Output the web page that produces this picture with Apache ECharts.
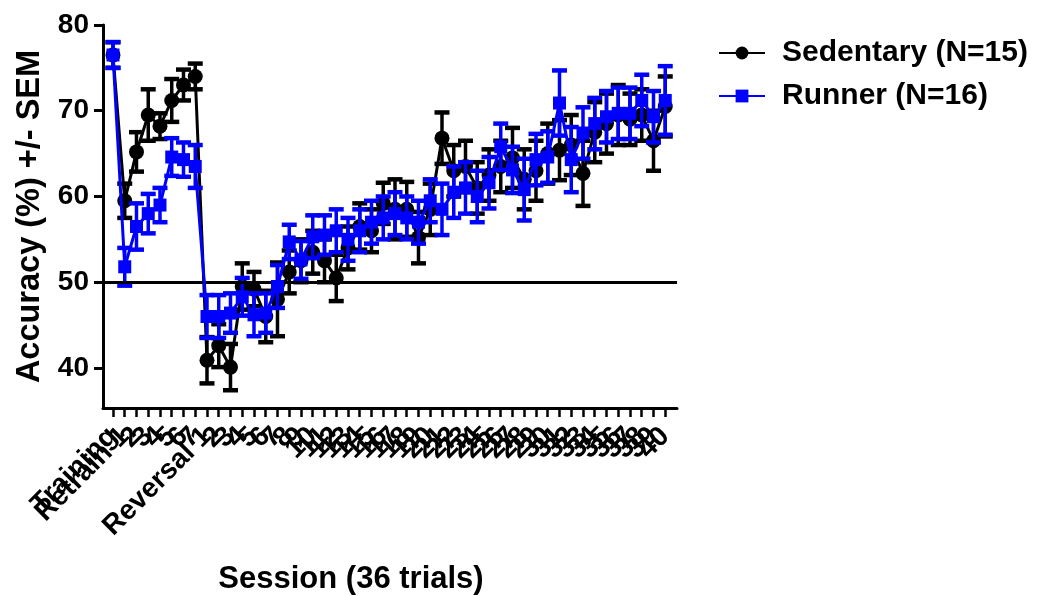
<!DOCTYPE html>
<html>
<head>
<meta charset="utf-8">
<script src="https://cdn.jsdelivr.net/npm/echarts@6/dist/echarts.min.js"></script>
<style>
  html, body { margin: 0; padding: 0; background: #fff; }
  #chart { width: 1052px; height: 596px; }
</style>
</head>
<body>
<div id="chart"></div>
<script>
// Session labels along the x axis
const sessionLabels = [
  "Training", "Retrain 1", "2", "3", "4", "5", "6", "7",
  "Reversal 1", "2", "3", "4", "5", "6", "7", "8", "9", "10",
  "11", "12", "13", "14", "15", "16", "17", "18", "19", "20",
  "21", "22", "23", "24", "25", "26", "27", "28", "29", "30",
  "31", "32", "33", "34", "35", "36", "37", "38", "39", "40"
];

// Sedentary group: mean accuracy (%) and SEM per session
const sedentaryMean = [
  76.5, 59.5, 65.2, 69.5, 68.2, 71.2, 73.0, 74.0,
  40.9, 42.6, 40.1, 49.5, 49.2, 46.0, 48.0, 51.2, 52.5, 53.5, 52.5, 50.5,
  54.0, 56.5, 56.0, 59.2, 58.5, 58.5, 55.2, 58.5, 66.8, 63.0,
  63.5, 61.0, 62.5, 63.5, 64.5, 62.0, 63.0, 65.0, 65.4, 66.0,
  62.7, 67.5, 68.5, 69.5, 69.0, 69.5, 66.5, 70.5
];
const sedentarySem = [
  1.5, 2.0, 2.3, 3.0, 1.5, 2.5, 1.8, 1.5,
  2.7, 2.5, 2.7, 2.7, 2.0, 3.0, 4.3, 2.5, 2.5, 2.5, 2.5, 2.7,
  2.5, 2.7, 2.5, 2.4, 3.5, 3.2, 3.0, 3.0, 3.0, 3.0,
  3.0, 3.0, 3.0, 3.0, 3.5, 3.5, 3.5, 3.5, 3.5, 3.5,
  3.8, 3.5, 3.5, 3.5, 3.0, 3.0, 3.5, 3.5
];

// Runner group: mean accuracy (%) and SEM per session
const runnerMean = [
  76.5, 51.8, 56.5, 58.0, 59.0, 64.6, 64.3, 63.5,
  46.0, 46.0, 46.4, 48.3, 46.2, 46.4, 49.5, 54.7, 52.6, 55.3, 55.5, 56.0,
  55.0, 56.0, 57.0, 57.5, 58.0, 57.5, 57.0, 59.5, 58.5, 60.5,
  61.0, 60.0, 61.6, 65.8, 63.1, 60.8, 64.3, 64.6, 70.9, 64.3,
  67.4, 68.5, 69.3, 69.7, 69.7, 71.2, 69.3, 71.2
];
const runnerSem = [
  1.5, 2.2, 2.7, 2.3, 2.0, 2.2, 2.0, 2.5,
  2.5, 2.5, 2.3, 2.2, 2.5, 2.3, 2.5, 2.0, 2.2, 2.5, 2.3, 2.5,
  2.5, 2.5, 2.5, 2.5, 2.5, 2.5, 2.5, 2.5, 3.0, 3.0,
  3.0, 3.0, 3.0, 2.7, 2.7, 3.6, 3.0, 3.0, 3.8, 3.8,
  3.0, 3.0, 3.0, 3.0, 3.0, 3.0, 3.0, 4.0
];

const yTicks = [40, 50, 60, 70, 80];
const chanceLevel = 50;

const FONT = '"Liberation Sans", Arial, Helvetica, sans-serif';

function lineData(means) {
  return means.map((m, i) => [i, m]);
}
function errData(means, sems) {
  return means.map((m, i) => [i, m, sems[i]]);
}

// Mean +/- SEM whiskers with flat caps
function errorBars(color, capWidth, lineWidth, capThickness) {
  return function (params, api) {
    const x = api.value(0), m = api.value(1), s = api.value(2);
    const hi = api.coord([x, m + s]);
    const lo = api.coord([x, m - s]);
    const half = capWidth / 2;
    return {
      type: 'group',
      children: [
        { type: 'line', shape: { x1: hi[0], y1: hi[1], x2: lo[0], y2: lo[1] },
          style: { stroke: color, lineWidth: lineWidth } },
        { type: 'line', shape: { x1: hi[0] - half, y1: hi[1], x2: hi[0] + half, y2: hi[1] },
          style: { stroke: color, lineWidth: capThickness } },
        { type: 'line', shape: { x1: lo[0] - half, y1: lo[1], x2: lo[0] + half, y2: lo[1] },
          style: { stroke: color, lineWidth: capThickness } }
      ]
    };
  };
}

const chart = echarts.init(document.getElementById('chart'), null, { renderer: 'canvas' });

chart.setOption({
  animation: false,
  backgroundColor: '#fff',
  textStyle: { fontFamily: FONT },
  grid: [
    // plotting frame: the axes run a little past the first and last session
    { left: 103, right: 375, top: 25, bottom: 188, containLabel: false },
    // session ticks and labels, first session to last session
    { left: 113, right: 387, top: 25, bottom: 188, containLabel: false }
  ],
  legend: {
    orient: 'vertical',
    left: 713,
    top: 33,
    itemWidth: 46,
    itemHeight: 16,
    itemGap: 13,
    data: ['Sedentary (N=15)', 'Runner (N=16)'],
    textStyle: { fontFamily: FONT, fontWeight: 'bold', fontSize: 30, color: '#000', padding: [0, 0, 0, 12] }
  },
  xAxis: [
    {
      type: 'value',
      gridIndex: 0,
      min: -0.85,
      max: 48.0,
      axisLine: { show: true, onZero: false, lineStyle: { color: '#000', width: 3 } },
      axisTick: { show: false },
      axisLabel: { show: false },
      splitLine: { show: false }
    },
    {
      type: 'category',
      gridIndex: 1,
      data: sessionLabels,
      boundaryGap: false,
      axisLine: { show: false, onZero: false },
      axisTick: { show: true, interval: 0, length: 9, lineStyle: { color: '#000', width: 2.5 } },
      splitLine: { show: false },
      axisLabel: {
        interval: 0,
        rotate: 45,
        margin: 24,
        color: '#000',
        fontFamily: FONT,
        fontWeight: 'bold',
        fontSize: 28
      }
    }
  ],
  yAxis: [
    {
      type: 'value',
      gridIndex: 0,
      min: 35.33,
      max: 80,
      name: 'Accuracy (%) +/- SEM',
      nameLocation: 'middle',
      nameRotate: 90,
      nameGap: 55,
      nameTextStyle: { fontFamily: FONT, fontWeight: 'bold', fontSize: 32.5, color: '#000' },
      axisLine: { show: true, onZero: false, lineStyle: { color: '#000', width: 3 } },
      axisTick: { show: true, customValues: yTicks, length: 9, lineStyle: { color: '#000', width: 3 } },
      splitLine: { show: false },
      axisLabel: {
        customValues: yTicks,
        margin: 14,
        color: '#000',
        fontFamily: FONT,
        fontWeight: 'bold',
        fontSize: 28
      }
    },
    {
      type: 'value',
      gridIndex: 1,
      min: 35.33,
      max: 80,
      show: false
    }
  ],
  graphic: [
    {
      type: 'text',
      x: 351,
      y: 579,
      style: {
        text: 'Session (36 trials)',
        fill: '#000',
        font: 'bold 31px ' + FONT,
        align: 'center',
        verticalAlign: 'middle'
      }
    }
  ],
  series: [
    {
      name: 'Sedentary SEM',
      type: 'custom',
      xAxisIndex: 0,
      yAxisIndex: 0,
      renderItem: errorBars('#000', 15, 3.5, 4.5),
      data: errData(sedentaryMean, sedentarySem),
      encode: { x: 0, y: 1 },
      silent: true,
      z: 2
    },
    {
      name: 'Sedentary (N=15)',
      type: 'line',
      xAxisIndex: 0,
      yAxisIndex: 0,
      data: lineData(sedentaryMean),
      symbol: 'circle',
      symbolSize: 15,
      color: '#000',
      lineStyle: { color: '#000', width: 3 },
      itemStyle: { color: '#000' },
      z: 3,
      markLine: {
        silent: true,
        symbol: 'none',
        label: { show: false },
        lineStyle: { color: '#000', width: 3, type: 'solid' },
        data: [{ yAxis: chanceLevel }]
      }
    },
    {
      name: 'Runner SEM',
      type: 'custom',
      xAxisIndex: 0,
      yAxisIndex: 0,
      renderItem: errorBars('#0000ff', 15, 3.5, 4.5),
      data: errData(runnerMean, runnerSem),
      encode: { x: 0, y: 1 },
      silent: true,
      z: 4
    },
    {
      name: 'Runner (N=16)',
      type: 'line',
      xAxisIndex: 0,
      yAxisIndex: 0,
      data: lineData(runnerMean),
      symbol: 'rect',
      symbolSize: 13,
      color: '#0000ff',
      lineStyle: { color: '#0000ff', width: 3 },
      itemStyle: { color: '#0000ff' },
      z: 5
    }
  ]
});
</script>
</body>
</html>
